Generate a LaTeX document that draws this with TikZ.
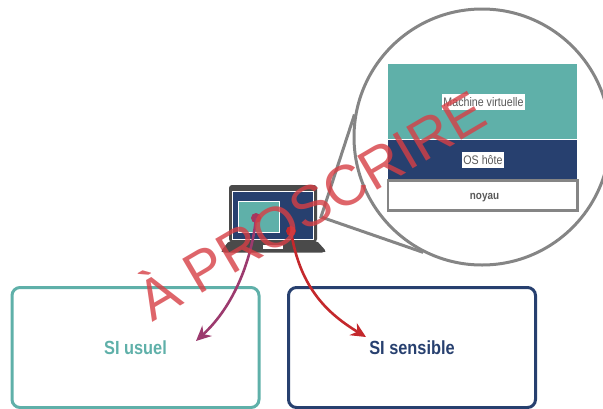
\documentclass[tikz,border=0pt]{standalone}
\usepackage{fontspec}
\setmainfont[FakeStretch=0.86]{Liberation Sans}
\newfontfamily\stampfont{Liberation Sans}
\usetikzlibrary{arrows.meta}
\definecolor{tealsi}{HTML}{5FB0A9}
\definecolor{navysi}{HTML}{27406F}
\definecolor{greyzoom}{HTML}{858585}
\definecolor{greylaptop}{HTML}{4A4A4A}
\definecolor{purplearrow}{HTML}{9C3A6E}
\definecolor{redarrow}{HTML}{C4282C}
\definecolor{redstamp}{HTML}{D63F45}
\tikzset{
  tag/.style={fill=white,text=black!65,font=\fontsize{12.4}{13}\selectfont,inner xsep=1pt,inner ysep=0pt,minimum height=16pt},
  sibox/.style={draw=#1,text=#1,rounded corners=8pt,line width=3pt,minimum width=247pt,minimum height=120pt,
    font=\fontsize{19}{20}\selectfont\bfseries},
  dot/.style={circle,fill=#1,inner sep=0pt,minimum size=10pt},
  flow/.style={line width=2.6pt,-{Stealth[length=15pt,width=14pt]}}
}
\begin{document}
\begin{tikzpicture}[x=1pt,y=-1pt]
  \useasboundingbox (0,0) rectangle (603,408);
  \clip (0,0) rectangle (603,408);
  \draw
    (135.5,347.5) node[sibox=tealsi] (usuel){SI usuel}
    (412,347.5) node[sibox=navysi] (sensible){SI sensible};
  % laptop
  \fill[greylaptop,rounded corners=3pt] (229,242) -- (229,185) -- (317,185) -- (317,242) -- cycle;
  \fill[greylaptop,rounded corners=2pt] (229,241) -- (221,251) -- (223,252.5) -- (324,252.5) -- (326,251) -- (317,241) -- cycle;
  \fill[white] (263,245) rectangle (283,248.5);
  \draw[white,fill=navysi,line width=1pt] (232.5,191.5) rectangle (313.5,239.5);
  \draw[white,fill=tealsi,line width=1pt] (238.5,201.5) rectangle (279,232);
  % zoom
  \coordinate (corner) at (321,217);
  \node[circle,draw=greyzoom,line width=3pt,minimum size=256pt,inner sep=0pt] (loupe) at (482,137) {};
  \draw[greyzoom,line width=3pt] (loupe.170) -- (corner) -- (loupe.243);
  \fill[tealsi] (388,64) rectangle (577,139);
  \fill[navysi] (388,140) rectangle (577,179);
  \draw (483.5,102) node[tag] (vm){Machine virtuelle}
    (483,160) node[tag] (os){OS hôte};
  \draw[greyzoom,line width=2.4pt,fill=white] (388,180.5) rectangle (577.5,210.5);
  \draw (484.5,197.5) node[text=black!65,font=\fontsize{11.5}{12}\selectfont\bfseries] (noyau){noyau};
  % flows
  \node[dot=purplearrow!75!redarrow] (src1) at (256,218) {};
  \node[dot=redarrow] (src2) at (291,231) {};
  \coordinate (dst1) at (196,341);
  \coordinate (dst2) at (366,337);
  \begin{scope}[flow]
    \draw[purplearrow] (src1.center) .. controls (252,258) and (235,305) .. (dst1);
    \draw[redarrow] (src2.center) .. controls (300,290) and (330,315) .. (dst2);
  \end{scope}
  \node[rotate=30.4,text=redstamp,opacity=.8,font=\fontsize{57}{57}\selectfont\stampfont] (stamp) at (309,202) {À PROSCRIRE};
\end{tikzpicture}
\end{document}
